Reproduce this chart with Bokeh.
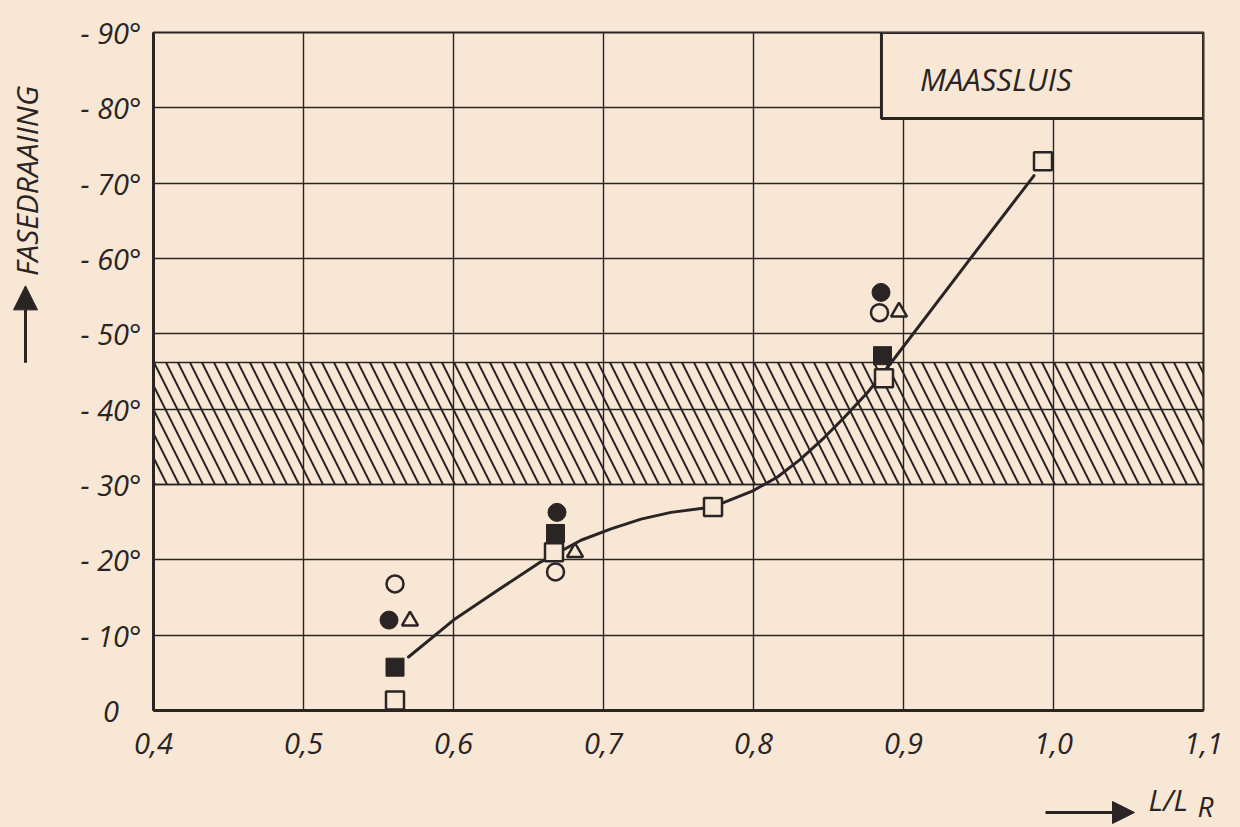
import math
from bokeh.plotting import figure
from bokeh.layouts import column, row
from bokeh.models import (Range1d, FixedTicker, BoxAnnotation, Label, Arrow, NormalHead)
from bokeh.embed import file_html
from bokeh.resources import INLINE

# ---- data ----
open_circle_x = [0.561, 0.668, 0.884]
open_circle_y = [-16.8, -18.4, -52.8]
filled_circle_x = [0.557, 0.669, 0.885]
filled_circle_y = [-12.0, -26.3, -55.5]
triangle_x = [0.571, 0.681, 0.897]
triangle_y = [-11.9, -21.0, -52.9]
filled_square_x = [0.561, 0.668, 0.886]
filled_square_y = [-5.75, -23.5, -47.1]
open_square_x = [0.561, 0.667, 0.773, 0.887, 0.993]
open_square_y = [-1.33, -21.0, -27.0, -44.1, -72.9]

curve_x = [0.570, 0.600, 0.629, 0.658, 0.685, 0.705, 0.725, 0.745, 0.765, 0.773,
           0.780, 0.800, 0.816, 0.831, 0.847, 0.860, 0.876, 0.893, 0.940, 0.987]
curve_y = [-7.1, -12.0, -15.9, -19.7, -22.6, -24.1, -25.4, -26.3, -26.8, -27.0,
           -27.6, -29.2, -31.0, -33.3, -36.2, -38.8, -42.2, -46.5, -58.8, -71.0]

band_bottom = -30.0
band_top = -46.2

x_ticks = [0.4, 0.5, 0.6, 0.7, 0.8, 0.9, 1.0, 1.1]
x_tick_labels = ["0,4", "0,5", "0,6", "0,7", "0,8", "0,9", "1,0", "1,1"]
y_ticks = [0, -10, -20, -30, -40, -50, -60, -70, -80, -90]
y_tick_labels = ["0\u00a0\u00a0\u00a0", "- 10°", "- 20°", "- 30°", "- 40°", "- 50°",
                 "- 60°", "- 70°", "- 80°", "- 90°"]

BG = "#f9e7d5"
INK = "#2a2424"
FONT = "Open Sans"

LEFT_W = 50
MAIN_W = 1190
MAIN_H = 768
BOTTOM_H = 59

p = figure(width=MAIN_W, height=MAIN_H, output_backend="svg", toolbar_location=None,
           x_range=Range1d(0.4, 1.1), y_range=Range1d(0, -90),
           min_border_left=103, min_border_right=37, min_border_top=32,
           min_border_bottom=58)
p.background_fill_color = BG
p.border_fill_color = BG
p.outline_line_color = INK
p.outline_line_width = 2

# grid
p.xaxis.ticker = FixedTicker(ticks=x_ticks)
p.yaxis.ticker = FixedTicker(ticks=y_ticks)
for g in (p.xgrid, p.ygrid):
    g.grid_line_color = INK
    g.grid_line_width = 1.4
    g.grid_line_alpha = 1.0

# axes
for ax in (p.xaxis, p.yaxis):
    ax.axis_line_color = INK
    ax.axis_line_width = 3
    ax.major_tick_line_color = None
    ax.minor_tick_line_color = None
    ax.major_label_text_font = FONT
    ax.major_label_text_font_style = "italic"
    ax.major_label_text_font_size = "29px"
    ax.major_label_text_color = INK
p.xaxis.major_label_overrides = {t: l for t, l in zip(x_ticks, x_tick_labels)}
p.yaxis.major_label_overrides = {t: l for t, l in zip(y_ticks, y_tick_labels)}
p.xaxis.major_label_standoff = 16
p.yaxis.major_label_standoff = 6

# hatched band
p.quad(left=[x_ticks[0]], right=[x_ticks[-1]], bottom=[band_bottom], top=[band_top],
       fill_color=None, line_color=INK, line_width=1.5,
       hatch_pattern="left_diagonal_line", hatch_color=INK, hatch_weight=2,
       hatch_scale=24)

# curve
p.line(curve_x, curve_y, line_color=INK, line_width=3, line_cap="round",
       line_join="round")

# markers
p.scatter(open_circle_x, open_circle_y, marker="circle", size=17,
          fill_color=BG, line_color=INK, line_width=2.5)
p.scatter(filled_circle_x, filled_circle_y, marker="circle", size=18,
          fill_color=INK, line_color=INK, line_width=1)
p.scatter(triangle_x, triangle_y, marker="triangle", size=16,
          fill_color=BG, line_color=INK, line_width=2.5)
p.scatter(filled_square_x, filled_square_y, marker="square", size=18,
          fill_color=INK, line_color=INK, line_width=1)
p.scatter(open_square_x, open_square_y, marker="square", size=18,
          fill_color=BG, line_color=INK, line_width=2.5)

# title box
box = BoxAnnotation(left=0.8853, right=1.1, top=-90, bottom=-78.6,
                    fill_color=BG, fill_alpha=1.0, line_color=INK, line_width=3,
                    line_alpha=1.0)
p.add_layout(box)
p.add_layout(Label(x=0.911, y=-83.8, text="MAASSLUIS", text_font=FONT,
                   text_font_style="italic", text_font_size="31px",
                   text_color=INK, text_baseline="middle", text_align="left"))


def strip(w, h):
    s = figure(width=w, height=h, output_backend="svg", toolbar_location=None,
               x_range=Range1d(0, w), y_range=Range1d(h, 0),
               x_axis_location=None, y_axis_location=None,
               min_border=0, min_border_left=0, min_border_right=0,
               min_border_top=0, min_border_bottom=0)
    s.background_fill_color = BG
    s.border_fill_color = BG
    s.outline_line_color = None
    s.xgrid.visible = False
    s.ygrid.visible = False
    return s


# left strip: vertical axis title with arrow
left = strip(LEFT_W, MAIN_H)
left.add_layout(Label(x=26, y=168, text="FASEDRAAIING", angle=math.pi / 2,
                      text_font=FONT, text_font_style="italic", text_font_size="30px",
                      text_color=INK, text_align="center", text_baseline="middle"))
left.add_layout(Arrow(x_start=25, y_start=374, x_end=25, y_end=287,
                      line_color=INK, line_width=3,
                      end=NormalHead(size=24, fill_color=INK, line_color=INK)))

# bottom strip: horizontal axis title with arrow (strip starts at page y = MAIN_H)
bottom = strip(LEFT_W + MAIN_W, BOTTOM_H)
bottom.add_layout(Arrow(x_start=1045, y_start=44, x_end=1134, y_end=44,
                        line_color=INK, line_width=3,
                        end=NormalHead(size=22, fill_color=INK, line_color=INK)))
bottom.add_layout(Label(x=1148, y=31, text="L/L", text_font=FONT,
                        text_font_style="italic", text_font_size="30px",
                        text_color=INK, text_baseline="middle", text_align="left"))
bottom.add_layout(Label(x=1197, y=37, text="R", text_font=FONT,
                        text_font_style="italic", text_font_size="28px",
                        text_color=INK, text_baseline="middle", text_align="left"))

layout = column(row(left, p, spacing=0, styles={"background-color": BG}),
                bottom, spacing=0, styles={"background-color": BG})
open("out.html", "w").write(file_html(layout, INLINE))
